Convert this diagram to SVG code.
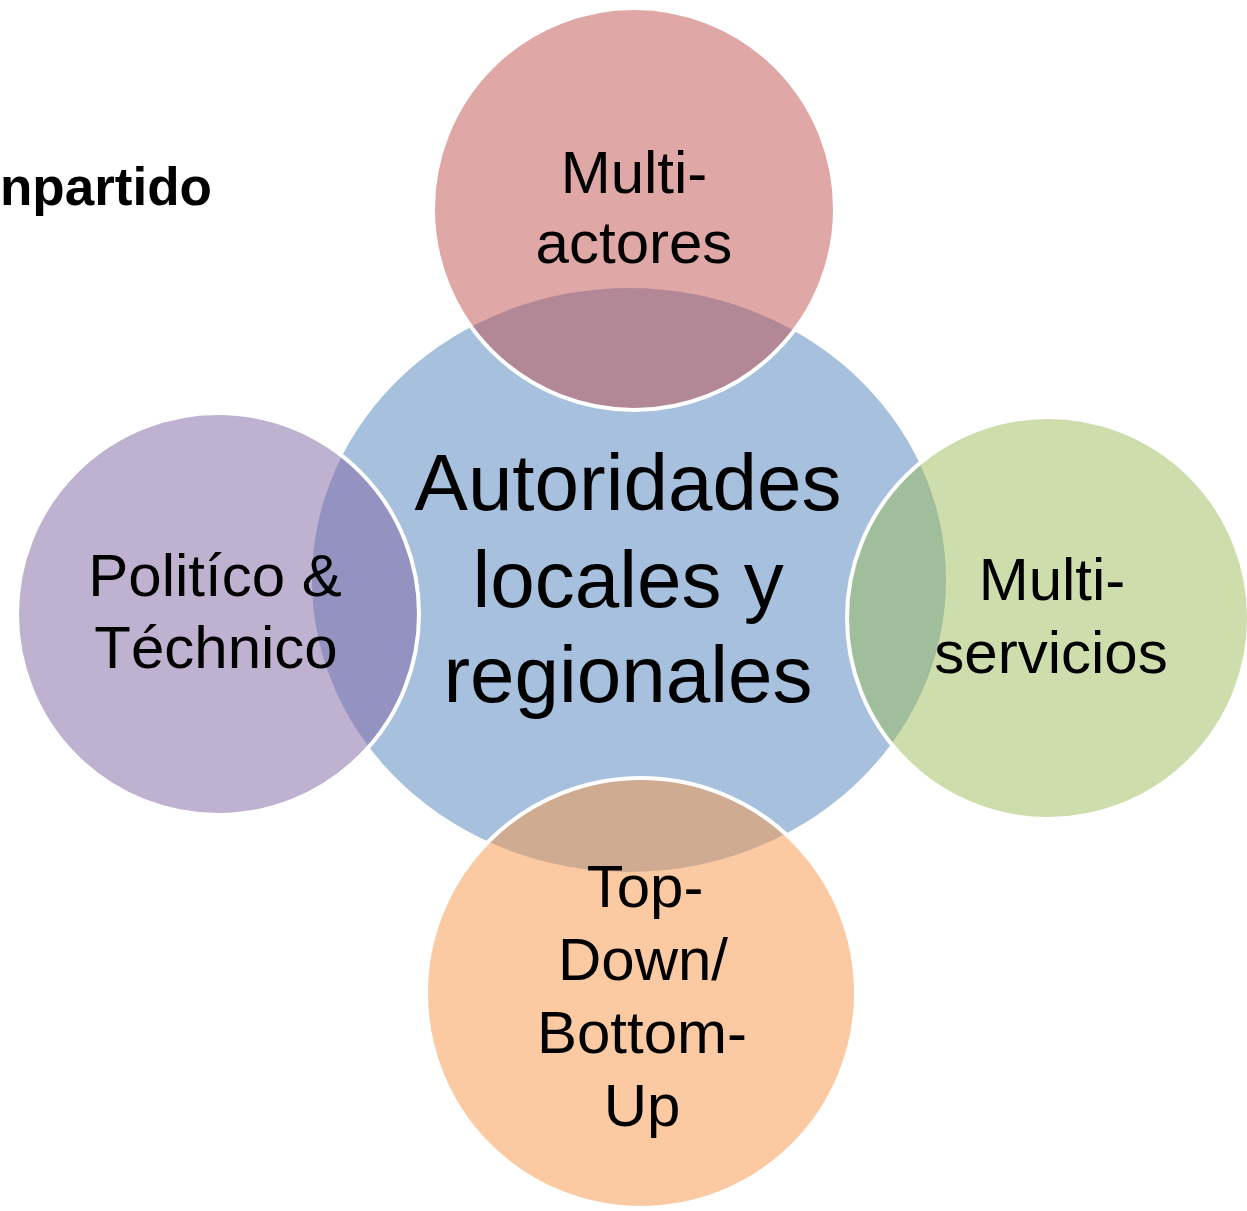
<svg xmlns="http://www.w3.org/2000/svg" width="1247" height="1211" viewBox="0 0 1247 1211">
<style>
.lbl{font-family:"Liberation Sans",Arial,sans-serif;fill:#000;text-anchor:middle}
.big{font-size:80px}
.sm{font-size:60px}
.outer{stroke:#fff;stroke-width:4;fill-opacity:0.5}
</style>
<rect width="1247" height="1211" fill="#fff"/>
<text x="0" y="205" style="font-family:'Liberation Sans',Arial,sans-serif;font-weight:bold;font-size:53px" fill="#000">npartido</text>
<g id="connectors"></g>
<g id="center">
<ellipse cx="629" cy="580" rx="317" ry="292" fill="#4F81BD" fill-opacity="0.5"/>
</g>
<g id="top">
<circle class="outer" cx="634" cy="209" r="201" fill="#C0504D"/>
</g>
<g id="right">
<circle class="outer" cx="1048" cy="618" r="201" fill="#9BBB59"/>
</g>
<g id="bottom">
<circle class="outer" cx="641" cy="993" r="215" fill="#F79646"/>
</g>
<g id="left">
<circle class="outer" cx="218" cy="614" r="201" fill="#8064A2"/>
</g>
<g id="center-text">
<text class="lbl big" x="628" y="510">Autoridades</text>
<text class="lbl big" x="628" y="607">locales y</text>
<text class="lbl big" x="628" y="702">regionales</text>
</g>
<g id="top-text">
<text class="lbl sm" x="634" y="193">Multi-</text>
<text class="lbl sm" x="634" y="263">actores</text>
</g>
<g id="right-text">
<text class="lbl sm" x="1052" y="600">Multi-</text>
<text class="lbl sm" x="1051" y="673">servicios</text>
</g>
<g id="bottom-text">
<text class="lbl sm" x="645" y="907">Top-</text>
<text class="lbl sm" x="643" y="980">Down/</text>
<text class="lbl sm" x="642" y="1053">Bottom-</text>
<text class="lbl sm" x="642" y="1126">Up</text>
</g>
<g id="left-text">
<text class="lbl sm" x="215" y="596">Politíco &amp;</text>
<text class="lbl sm" x="216" y="668">Téchnico</text>
</g>
</svg>
